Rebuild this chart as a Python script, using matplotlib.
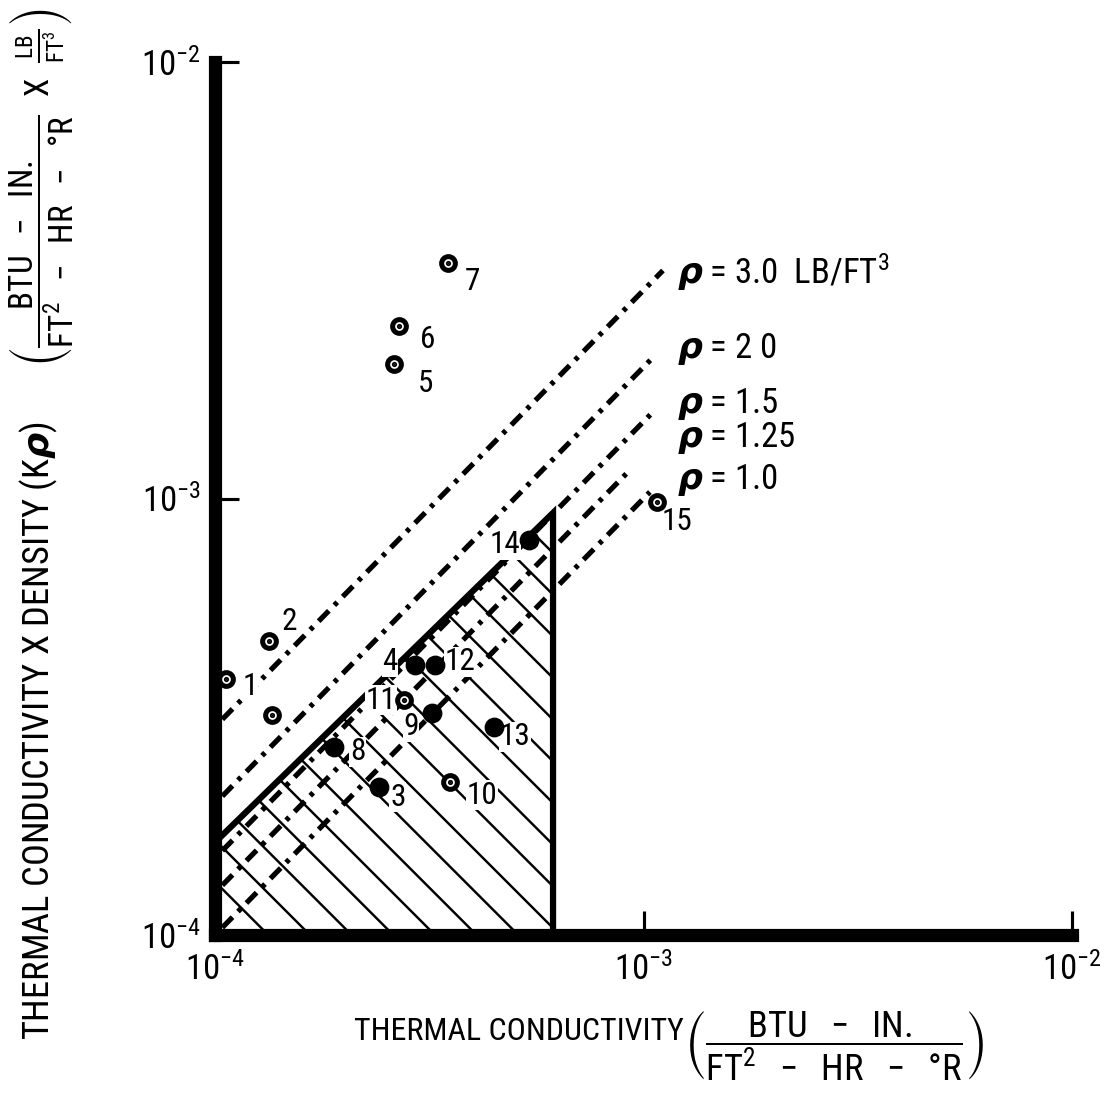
import matplotlib
matplotlib.use('Agg')
import matplotlib.pyplot as plt
from matplotlib import font_manager
from matplotlib.patches import Polygon
from matplotlib.ticker import LogLocator, NullLocator

# samples: thermal conductivity K and K x density
sample_ids = ['1', '2', '', '3', '4', '5', '6', '7', '8', '9', '10', '11', '12', '13', '14', '15']
k_vals = [1.06e-4, 1.34e-4, 1.36e-4, 2.41e-4, 2.93e-4, 2.62e-4, 2.69e-4, 3.50e-4,
          1.90e-4, 3.21e-4, 3.54e-4, 2.76e-4, 3.26e-4, 4.48e-4, 5.40e-4, 1.075e-3]
krho_vals = [3.86e-4, 4.72e-4, 3.19e-4, 2.18e-4, 4.16e-4, 2.03e-3, 2.49e-3, 3.46e-3,
             2.70e-4, 3.23e-4, 2.24e-4, 3.45e-4, 4.16e-4, 3.00e-4, 8.04e-4, 9.80e-4]
solid = [False, False, False, True, True, False, False, False,
         True, True, False, False, True, True, True, False]

# lines of constant density (K*rho = rho*K)
rho_vals = [3.0, 2.0, 1.5, 1.25, 1.0]
rho_text = ['3.0  LB/FT$^3$', '2 0', '1.5', '1.25', '1.0']
rho_k_start = [1.04e-4, 1.04e-4, 1.04e-4, 1.04e-4, 1.04e-4]
rho_k_end = [1.11e-3, 1.05e-3, 1.05e-3, 9.2e-4, 1.035e-3]

# hatched region
region_k = [1e-4, 1e-4, 6.15e-4, 6.15e-4]
region_krho = [1e-4, 1.63e-4, 9.27e-4, 1e-4]

# where the numbers sit relative to their point (pixels)
label_offsets = [(24, -8), (20, 19), (0, 0), (19, -10), (-25, 3), (31, -19), (29, -14), (24, -18),
                 (23, -5), (-21, -14), (32, -13), (-23, 0), (25, 3), (21, -10), (-24, -5), (20, -19)]

have = {f.name for f in font_manager.fontManager.ttflist}
base = 'DejaVu Sans'
for cand in ['Liberation Sans Narrow', 'Roboto Condensed', 'Open Sans Condensed', 'DejaVu Sans Condensed', 'Liberation Sans']:
    if cand in have:
        base = cand
        break
plt.rcParams['font.family'] = [base, 'DejaVu Sans']
plt.rcParams['mathtext.fontset'] = 'custom'
plt.rcParams['mathtext.rm'] = base
plt.rcParams['mathtext.it'] = base + ':italic'
plt.rcParams['mathtext.bf'] = base + ':bold:italic'
plt.rcParams['mathtext.fallback'] = 'stixsans'
plt.rcParams['hatch.linewidth'] = 0.7

fig = plt.figure(figsize=(1114 / 250, 1096 / 250), dpi=250)
ax = fig.add_axes([0.1930, 0.1469, 0.7693, 0.7965])
ax.set_xscale('log')
ax.set_yscale('log')
ax.set_xlim(1e-4, 1e-2)
ax.set_ylim(1e-4, 1e-2)

for s in ['top', 'right']:
    ax.spines[s].set_visible(False)
for s in ['left', 'bottom']:
    ax.spines[s].set_linewidth(3.8)

ax.xaxis.set_major_locator(LogLocator(base=10, numticks=5))
ax.yaxis.set_major_locator(LogLocator(base=10, numticks=5))
ax.xaxis.set_minor_locator(NullLocator())
ax.yaxis.set_minor_locator(NullLocator())
ax.tick_params(which='major', direction='in', length=7, width=0.9, labelsize=10)
ax.tick_params(axis='y', pad=4)
ax.tick_params(axis='x', pad=5)

# hatched area
reg = Polygon(list(zip(region_k, region_krho)), closed=True, facecolor='none',
              edgecolor='black', hatch='\\\\', linewidth=1.8, zorder=1)
ax.add_patch(reg)

# density lines
for rho, k0, k1, txt in zip(rho_vals, rho_k_start, rho_k_end, rho_text):
    ax.plot([k0, k1], [rho * k0, rho * k1], color='black', lw=1.5,
            linestyle=(0, (2.8, 1.5, 0.8, 1.5)), dash_capstyle='butt', zorder=3)
    ax.text(1.2e-3, 1.1 * rho * 1e-3, r'$\boldsymbol{\rho}$ = ' + txt, fontsize=10,
            ha='left', va='center')

# sample points
for sid, k, kr, full, off in zip(sample_ids, k_vals, krho_vals, solid, label_offsets):
    if full:
        ax.plot(k, kr, 'o', color='black', ms=4.7, zorder=5)
    else:
        ax.plot(k, kr, 'o', color='black', ms=4.4, zorder=5)
        ax.plot(k, kr, 'o', color='white', ms=1.5, zorder=6)
        ax.plot(k, kr, 'o', color='black', ms=0.5, zorder=7)
    if sid:
        ax.annotate(sid, (k, kr), xytext=off, textcoords='offset pixels', fontsize=9,
                    ha='center', va='center', zorder=4,
                    bbox=dict(facecolor='white', edgecolor='none', pad=0.2))

frac_k = r'\dfrac{\mathrm{BTU\ \ -\ \ IN.}}{\mathrm{FT^2\ \ -\ \ HR\ \ -\ \ °R}}'

# x axis title
fig.text(684 / 1114, 1 - 1032 / 1096, 'THERMAL CONDUCTIVITY', fontsize=9.2,
         ha='right', va='center')
fig.text(684 / 1114, 1 - 1046 / 1096, r'$\left(' + frac_k + r'\right)$', fontsize=10.5,
         ha='left', va='center')

# y axis title
fig.text(39 / 1114, 1 - 1040 / 1096, r'THERMAL CONDUCTIVITY X DENSITY (K$\boldsymbol{\rho}$)',
         fontsize=10.5, ha='center', va='bottom', rotation=90)
fig.text(41 / 1114, 1 - 8 / 1096,
         r'$\left(' + frac_k + r'\ \ \mathrm{X}\ \ \frac{\mathrm{LB}}{\mathrm{FT^3}}\right)$',
         fontsize=9.5, ha='center', va='top', rotation=90)

fig.savefig('out.png', dpi=250)
